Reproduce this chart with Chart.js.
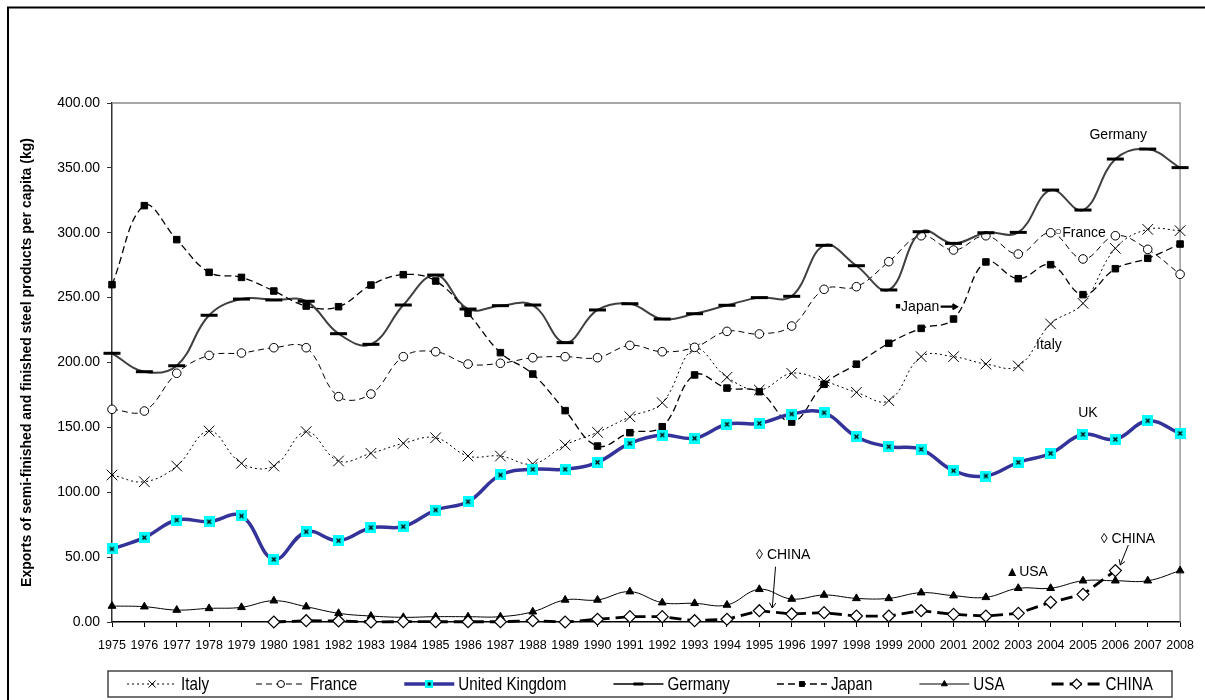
<!DOCTYPE html>
<html>
<head>
<meta charset="utf-8">
<script src="https://cdn.jsdelivr.net/npm/chart.js@4.4.1/dist/chart.umd.min.js"></script>
<style>
	body { margin: 0; background: #fff; }
	canvas { display: block; }
</style>
</head>
<body>
<canvas id="steelChart" width="1205" height="700"></canvas>
<script>
// exports of semi-finished and finished steel products, kg per head
const years = ['1975', '1976', '1977', '1978', '1979', '1980', '1981', '1982', '1983', '1984',
	'1985', '1986', '1987', '1988', '1989', '1990', '1991', '1992', '1993', '1994',
	'1995', '1996', '1997', '1998', '1999', '2000', '2001', '2002', '2003', '2004',
	'2005', '2006', '2007', '2008'];

const italy = [113.3, 108.1, 120.2, 147.2, 122.3, 120.2, 146.7, 124.1, 130.0, 137.7,
	142.0, 127.9, 127.9, 121.8, 136.4, 146.2, 158.2, 169.0, 210.5, 188.6,
	178.8, 191.7, 185.7, 177.0, 170.6, 204.5, 204.5, 198.8, 197.3, 229.7,
	245.6, 288.0, 302.6, 301.6];
const france = [163.9, 162.6, 191.7, 205.5, 207.3, 211.4, 211.4, 173.7, 175.7, 204.5,
	208.3, 198.8, 199.4, 203.7, 204.5, 203.7, 213.2, 208.3, 211.7, 224.0,
	222.0, 228.1, 256.4, 258.4, 277.7, 297.7, 286.7, 297.7, 283.6, 300.0,
	279.8, 297.7, 287.2, 268.0];
const unitedKingdom = [56.3, 65.0, 78.6, 77.3, 81.7, 48.3, 69.6, 62.7, 72.7, 73.5,
	86.3, 92.7, 113.3, 117.7, 117.7, 123.1, 137.7, 144.1, 141.6, 152.4,
	153.1, 160.3, 161.3, 142.8, 135.1, 133.1, 116.6, 112.5, 123.1, 130.0,
	144.7, 140.8, 155.1, 145.4];
const germany = [207.1, 192.9, 197.5, 236.4, 248.9, 248.2, 247.2, 222.2, 214.0, 244.3,
	267.4, 241.2, 243.8, 244.3, 215.3, 240.5, 245.3, 233.5, 237.6, 244.1,
	250.0, 251.0, 290.3, 274.6, 255.9, 300.8, 291.8, 300.0, 300.3, 332.9,
	317.5, 356.8, 364.5, 350.2];
const japan = [260.0, 320.9, 294.7, 269.5, 265.6, 255.1, 243.5, 243.0, 259.7, 267.7,
	262.8, 237.9, 207.6, 191.1, 162.9, 135.6, 145.9, 150.5, 190.4, 180.3,
	177.5, 154.1, 183.2, 198.7, 214.8, 226.3, 233.5, 277.5, 264.6, 275.4,
	252.3, 272.3, 280.3, 291.3];
const usa = [12.3, 11.8, 9.2, 10.5, 11.3, 16.4, 11.8, 6.7, 4.6, 3.6,
	4.1, 4.1, 4.1, 7.9, 17.0, 17.0, 23.4, 14.9, 14.4, 13.1,
	25.2, 17.7, 20.8, 18.2, 18.2, 22.6, 20.3, 19.0, 26.0, 26.0,
	31.8, 31.8, 31.8, 39.6];
const china = [null, null, null, null, null, 0.0, 1.0, 0.8, 0.0, 0.3,
	0.2, 0.2, 0.2, 1.0, 0.0, 2.1, 4.1, 4.1, 1.0, 2.1,
	8.7, 6.2, 7.2, 4.6, 4.6, 8.7, 5.9, 4.6, 6.7, 15.2,
	21.3, 39.6, null, null];

const yTicks = [0, 50, 100, 150, 200, 250, 300, 350, 400];

const SANS = '"Liberation Sans", Arial, sans-serif';

// cyan square with a small black cross
function ukMarker(size) {
	const c = document.createElement('canvas');
	c.width = size;
	c.height = size;
	const g = c.getContext('2d');
	g.fillStyle = '#00ffff';
	g.fillRect(0, 0, size, size);
	const a = size * 0.32, b = size * 0.68;
	g.strokeStyle = '#000';
	g.lineWidth = 1.3;
	g.beginPath();
	g.moveTo(a, a); g.lineTo(b, b);
	g.moveTo(b, a); g.lineTo(a, b);
	g.stroke();
	return c;
}

const datasets = [
	{
		label: 'Italy', data: italy, order: 7,
		borderColor: '#000', borderWidth: 1, borderDash: [2, 3],
		pointStyle: 'crossRot', pointRadius: 7.5, pointBorderWidth: 1,
		pointBorderColor: '#000', pointBackgroundColor: '#000', keyRadius: 5
	},
	{
		label: 'France', data: france, order: 6,
		borderColor: '#000', borderWidth: 1, borderDash: [6, 4],
		pointStyle: 'circle', pointRadius: 4.3, pointBorderWidth: 1,
		pointBorderColor: '#000', pointBackgroundColor: '#fff', keyRadius: 3.5
	},
	{
		label: 'United Kingdom', data: unitedKingdom, order: 0,
		borderColor: '#333399', borderWidth: 3.5, borderDash: [],
		pointStyle: ukMarker(11), pointRadius: 6, pointBorderWidth: 0,
		pointBorderColor: '#000', pointBackgroundColor: '#00ffff', keyStyle: ukMarker(8)
	},
	{
		label: 'Germany', data: germany, order: 4,
		borderColor: '#404040', borderWidth: 2, borderDash: [],
		pointStyle: 'line', pointRadius: 8.5, pointBorderWidth: 3,
		pointBorderColor: '#000', pointBackgroundColor: '#000', keyRadius: 5
	},
	{
		label: 'Japan', data: japan, order: 3,
		borderColor: '#000', borderWidth: 1.3, borderDash: [7, 4],
		pointStyle: 'rect', pointRadius: 4.6, pointBorderWidth: 1,
		pointBorderColor: '#000', pointBackgroundColor: '#000', keyRadius: 3.5
	},
	{
		label: 'USA', data: usa, order: 2,
		borderColor: '#000', borderWidth: 1, borderDash: [],
		pointStyle: 'triangle', pointRadius: 4.5, pointBorderWidth: 1,
		pointBorderColor: '#000', pointBackgroundColor: '#000', keyRadius: 3.5
	},
	{
		label: 'CHINA', data: china, order: 1, tension: 0,
		borderColor: '#000', borderWidth: 2.8, borderDash: [12, 6],
		pointStyle: 'rectRot', pointRadius: 6, pointBorderWidth: 1.2,
		pointBorderColor: '#000', pointBackgroundColor: '#fff', keyRadius: 5
	}
];

// text notes inside the plot, placed by year and value
const notes = [
	{ text: 'Germany', year: 2005.2, value: 375 },
	{ text: '\u25CB', year: 2004.12, value: 300.5, size: 12 },
	{ text: 'France', year: 2004.36, value: 300 },
	{ text: '\u25A0', year: 1999.2, value: 243.5, size: 9 },
	{ text: 'Japan', year: 1999.38, value: 243 },
	{ text: 'Italy', year: 2003.55, value: 213.5 },
	{ text: 'UK', year: 2004.85, value: 161 },
	{ text: '\u25CA CHINA', year: 1994.9, value: 51.6 },
	{ text: '\u25B2USA', year: 2002.6, value: 38.5 },
	{ text: '\u25CA CHINA', year: 2005.55, value: 64 }
];
const arrows = [
	{ from: [2000.6, 243], to: [2001.1, 243], width: 2.2, head: 5 },
	{ from: [1995.5, 42.6], to: [1995.4, 10.8], width: 1, head: 6 },
	{ from: [2006.4, 59.3], to: [2006.15, 43.9], width: 1, head: 6 }
];

const pageFrame = {
	id: 'pageFrame',
	beforeDraw(chart) {
		const ctx = chart.ctx;
		ctx.save();
		ctx.fillStyle = '#fff';
		ctx.fillRect(0, 0, chart.width, chart.height);
		ctx.strokeStyle = '#000';
		ctx.lineWidth = 2;
		ctx.strokeRect(8, 7.5, chart.width + 20, chart.height + 20);
		ctx.restore();
	},
	beforeDatasetsDraw(chart) {
		const { ctx, chartArea } = chart;
		ctx.save();
		ctx.strokeStyle = '#8a8a8a';
		ctx.lineWidth = 1.3;
		ctx.beginPath();
		ctx.moveTo(chartArea.left, chartArea.top);
		ctx.lineTo(chartArea.right, chartArea.top);
		ctx.lineTo(chartArea.right, chartArea.bottom);
		ctx.stroke();
		ctx.restore();
	}
};

const plotNotes = {
	id: 'plotNotes',
	afterDatasetsDraw(chart) {
		const { ctx, scales } = chart;
		const px = yr => scales.x.getPixelForValue(yr - 1975);
		const py = v => scales.y.getPixelForValue(v);
		ctx.save();
		ctx.fillStyle = '#000';
		ctx.textAlign = 'left';
		ctx.textBaseline = 'middle';
		notes.forEach(n => {
			ctx.font = (n.size || 14) + 'px ' + SANS;
			ctx.fillText(n.text, px(n.year), py(n.value));
		});

		ctx.strokeStyle = '#000';
		arrows.forEach(a => {
			const x1 = px(a.from[0]), y1 = py(a.from[1]);
			const x2 = px(a.to[0]), y2 = py(a.to[1]);
			const ang = Math.atan2(y2 - y1, x2 - x1);
			ctx.lineWidth = a.width;
			ctx.beginPath();
			ctx.moveTo(x1, y1);
			ctx.lineTo(x2, y2);
			ctx.moveTo(x2 - a.head * Math.cos(ang - 0.55), y2 - a.head * Math.sin(ang - 0.55));
			ctx.lineTo(x2, y2);
			ctx.lineTo(x2 - a.head * Math.cos(ang + 0.55), y2 - a.head * Math.sin(ang + 0.55));
			ctx.stroke();
		});
		ctx.restore();
	}
};

// boxed key under the axis: line sample, marker, narrow name
const keyBox = {
	id: 'keyBox',
	afterDraw(chart) {
		const ctx = chart.ctx;
		const left = 108, right = 1172, top = 671, bottom = 697;
		const cy = (top + bottom) / 2;
		const sample = 50, textGap = 4, itemGap = 47, squeeze = 0.8;
		ctx.save();
		ctx.strokeStyle = '#444';
		ctx.lineWidth = 1.5;
		ctx.strokeRect(left, top, right - left, bottom - top);
		ctx.font = '19px ' + SANS;
		const sets = chart.data.datasets;
		const widths = sets.map(ds => sample + textGap + ctx.measureText(ds.label).width * squeeze);
		const total = widths.reduce((s, w) => s + w, 0) + itemGap * (widths.length - 1);
		let x = (left + right) / 2 - total / 2;
		sets.forEach((ds, i) => {
			ctx.save();
			ctx.strokeStyle = ds.borderColor;
			ctx.lineWidth = ds.borderWidth;
			ctx.setLineDash(ds.borderDash || []);
			ctx.beginPath();
			ctx.moveTo(x, cy);
			ctx.lineTo(x + sample, cy);
			ctx.stroke();
			ctx.setLineDash([]);
			ctx.fillStyle = ds.pointBackgroundColor;
			ctx.strokeStyle = ds.pointBorderColor;
			ctx.lineWidth = ds.pointBorderWidth;
			Chart.helpers.drawPoint(ctx, {
				pointStyle: ds.keyStyle || ds.pointStyle,
				radius: ds.keyRadius || 4,
				rotation: 0,
				borderWidth: ds.pointBorderWidth
			}, x + sample / 2, cy);
			ctx.restore();

			ctx.save();
			ctx.translate(x + sample + textGap, cy + 1);
			ctx.scale(squeeze, 1);
			ctx.fillStyle = '#000';
			ctx.textAlign = 'left';
			ctx.textBaseline = 'middle';
			ctx.fillText(ds.label, 0, 0);
			ctx.restore();
			x += widths[i] + itemGap;
		});
		ctx.restore();
	}
};

new Chart(document.getElementById('steelChart'), {
	type: 'line',
	data: {
		labels: years,
		datasets: datasets.map(ds => Object.assign({
			tension: 0.4,
			clip: false,
			fill: false,
			spanGaps: false
		}, ds))
	},
	options: {
		responsive: false,
		animation: false,
		devicePixelRatio: 1,
		layout: {
			padding: { top: 103, right: 15, left: 0, bottom: 0 }
		},
		scales: {
			x: {
				type: 'category',
				offset: false,
				grid: {
					display: true,
					drawOnChartArea: false,
					drawTicks: true,
					tickLength: 5,
					color: '#000'
				},
				border: { display: true, color: '#000', width: 1.5 },
				ticks: {
					autoSkip: false,
					maxRotation: 0,
					padding: 11,
					color: '#000',
					font: { family: SANS, size: 12.5 }
				},
				afterFit(scale) { scale.height = 78; }
			},
			y: {
				min: 0,
				max: 400,
				afterBuildTicks(scale) { scale.ticks = yTicks.map(v => ({ value: v })); },
				grid: {
					display: true,
					drawOnChartArea: false,
					drawTicks: true,
					tickLength: 5,
					color: '#333'
				},
				border: { display: true, color: '#333', width: 1.5 },
				ticks: {
					padding: 7,
					color: '#000',
					font: { family: SANS, size: 14 },
					callback: v => Number(v).toFixed(2)
				},
				title: {
					display: true,
					text: 'Exports of semi-finished and finished steel products per capita (kg)',
					color: '#000',
					font: { family: SANS, size: 14, weight: 'bold' },
					padding: { top: 19, bottom: 0 }
				},
				afterFit(scale) { scale.width = 112; }
			}
		},
		plugins: {
			legend: { display: false },
			tooltip: { enabled: false }
		}
	},
	plugins: [pageFrame, plotNotes, keyBox]
});
</script>
</body>
</html>
